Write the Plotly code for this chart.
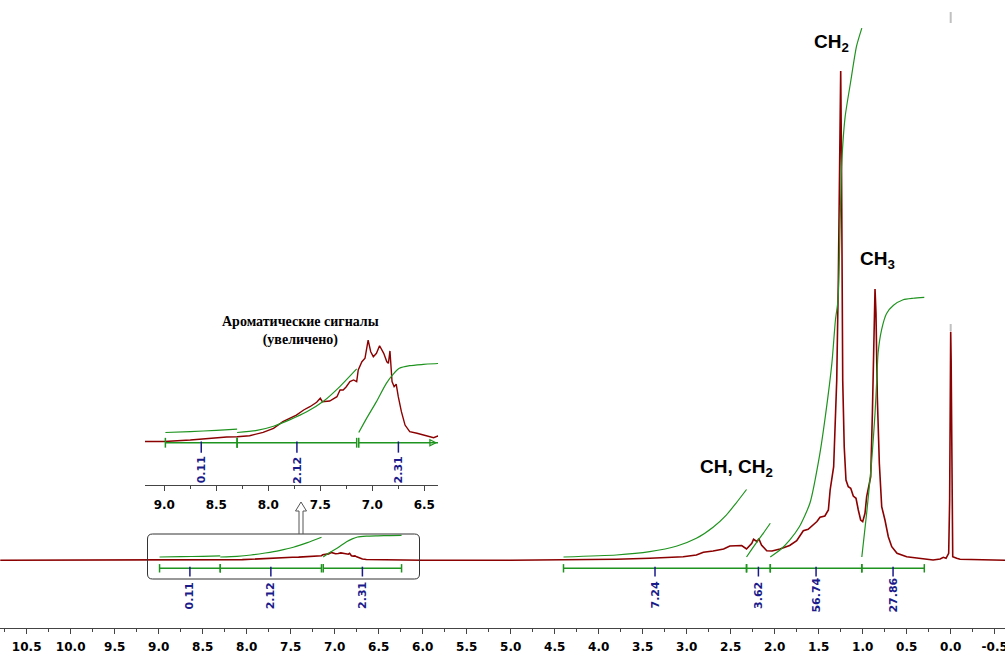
import plotly.graph_objects as go

# ---------------- axis ticks ----------------
tick_vals = [10.5, 10.0, 9.5, 9.0, 8.5, 8.0, 7.5, 7.0, 6.5, 6.0, 5.5, 5.0, 4.5,
             4.0, 3.5, 3.0, 2.5, 2.0, 1.5, 1.0, 0.5, 0.0, -0.5]
tick_text = ["10.5", "10.0", "9.5", "9.0", "8.5", "8.0", "7.5", "7.0", "6.5", "6.0",
             "5.5", "5.0", "4.5", "4.0", "3.5", "3.0", "2.5", "2.0", "1.5", "1.0",
             "0.5", "0.0", "-0.5"]
inset_tick_vals = [9.0, 8.5, 8.0, 7.5, 7.0, 6.5]
inset_tick_text = ["9.0", "8.5", "8.0", "7.5", "7.0", "6.5"]

# ---------------- spectrum (ppm, intensity) ----------------
shift_ppm = [10.80, 9.20, 9.19, 9.00, 8.75, 8.53, 8.40, 8.30, 8.18, 8.05, 7.95, 7.86,
             7.79, 7.73, 7.66, 7.60, 7.535, 7.50, 7.48, 7.41, 7.34, 7.31, 7.28, 7.25,
             7.215, 7.18, 7.15, 7.135, 7.10, 7.07, 7.04, 7.015, 6.99, 6.96, 6.93, 6.89,
             6.86, 6.845, 6.83, 6.81, 6.79, 6.77, 6.75, 6.72, 6.685, 6.64, 6.57, 6.51,
             6.41, 6.37, 6.30, 6.20, 6.00, 5.00, 4.60, 4.20, 3.80, 3.42, 3.04, 2.89,
             2.81, 2.70, 2.58, 2.51, 2.45, 2.375, 2.32, 2.26, 2.24, 2.20, 2.18, 2.15,
             2.09, 2.03, 1.94, 1.83, 1.75, 1.675, 1.62, 1.52, 1.485, 1.43, 1.39, 1.37,
             1.33, 1.315, 1.295, 1.277, 1.264, 1.25, 1.241, 1.233, 1.227, 1.21, 1.19,
             1.164, 1.136, 1.107, 1.076, 1.05, 1.023, 1.00, 0.974, 0.955, 0.925, 0.909,
             0.89, 0.872, 0.86, 0.849, 0.834, 0.811, 0.784, 0.747, 0.709, 0.67, 0.61,
             0.50, 0.35, 0.20, 0.12, 0.084, 0.053, 0.039, 0.023, 0.012, 0.005, 0.0,
             -0.005, -0.012, -0.023, -0.068, -0.106, -0.62]
intensity = [0.0, 0.0, 0.0, 0.02, 0.13, 0.31, 0.36, 0.38, 0.46, 0.72, 1.03, 1.54,
             1.85, 2.05, 2.44, 2.69, 3.03, 3.34, 3.08, 3.13, 3.46, 3.98, 3.98, 4.23,
             4.62, 4.75, 4.62, 5.52, 6.15, 6.42, 7.82, 6.92, 6.54, 6.80, 7.38, 6.80,
             6.15, 6.03, 6.98, 4.62, 4.23, 4.42, 3.46, 2.31, 1.28, 0.77, 0.65, 0.52,
             0.31, 0.44, 0.30, 0.15, 0.05, 0.0, 0.1, 0.4, 1.0, 2.0, 3.6, 5.3,
             8.0, 9.3, 11.3, 14.3, 14.3, 14.8, 11.3, 17.0, 21.0, 18.6, 21.6, 15.3,
             9.6, 9.3, 11.3, 14.8, 19.6, 29.6, 31.0, 38.8, 43.0, 44.3, 50.3, 70.3,
             93.6, 123.6, 180.3, 280.0, 400.0, 489.3, 400.0, 280.0, 180.0, 113.6, 80.3,
             73.6, 72.0, 64.3, 62.0, 50.3, 40.3, 38.6, 47.0, 63.6, 75.3, 83.6,
             147.0, 247.0, 271.3, 247.0, 163.6, 97.0, 53.6, 40.3, 23.6, 13.6, 7.0,
             3.6, 2.0, 0.3, 1.3, 3.0, 2.0, 5.3, 7.0, 60.0, 200.0, 228.6,
             200.0, 60.0, 3.6, 2.0, 1.0, 0.0]

# ---------------- integrals ----------------
integral_start = [8.99, 8.30, 7.13, 4.40, 2.32, 2.05, 1.01]
integral_end = [8.30, 7.15, 6.24, 2.32, 2.05, 1.01, 0.30]
integral_label = ["0.11", "2.12", "2.31", "7.24", "3.62", "56.74", "27.86"]
aromatic_count = 3  # first three integrals are the aromatic ones shown in the inset

# integral curves (cumulative integral within each region)
curve_ppm_a = [8.99, 8.75, 8.50, 8.30]
curve_val_a = [0.0, 0.03, 0.07, 0.11]
curve_ppm_b = [8.30, 8.11, 7.95, 7.79, 7.63, 7.47, 7.31, 7.15]
curve_val_b = [0.0, 0.07, 0.21, 0.43, 0.69, 1.04, 1.54, 2.12]
curve_ppm_c = [7.13, 7.055, 6.96, 6.865, 6.80, 6.74, 6.64, 6.51, 6.37, 6.24]
curve_val_c = [0.0, 0.47, 1.03, 1.64, 1.94, 2.14, 2.23, 2.27, 2.30, 2.31]
curve_ppm_d = [4.40, 3.80, 3.42, 3.11, 2.89, 2.70, 2.55, 2.44, 2.32]
curve_val_d = [0.0, 0.21, 0.57, 1.18, 2.0, 3.19, 4.5, 5.76, 7.24]
curve_ppm_e = [2.32, 2.20, 2.13, 2.05]
curve_val_e = [0.0, 1.64, 2.54, 3.62]
curve_ppm_f = [2.05, 1.94, 1.83, 1.72, 1.60, 1.49, 1.42, 1.35, 1.31, 1.28, 1.24,
               1.20, 1.14, 1.07, 1.01]
curve_val_f = [0.0, 0.75, 1.82, 3.25, 5.76, 10.9, 15.4, 20.8, 25.4, 27.6, 41.9,
               47.2, 50.8, 54.8, 56.74]
curve_ppm_g = [1.01, 0.955, 0.90, 0.86, 0.84, 0.825, 0.785, 0.73, 0.65, 0.54, 0.425, 0.30]
curve_val_g = [0.0, 4.7, 10.05, 15.4, 19.0, 21.9, 24.4, 26.1, 27.0, 27.6, 27.76, 27.86]

# peak group labels
group_text = ["CH<sub>2</sub>", "CH<sub>3</sub>", "CH, CH<sub>2</sub>"]
group_ppm = [1.349, 0.8375, 2.434]
group_int = [517.0, 300.0, 92.0]

# ---------------- styling / layout constants ----------------
W, H = 1005, 653
PLOT_H = 628
RED = "#8b0000"
GREEN = "#1f931f"
NAVY = "#1a1a8a"
AXIS = "#444444"
X_RANGE = [10.803, -0.617]
INSET_RANGE = [9.186, 6.368]
MAIN_Y = [-67.7, 560.3]
MAIN_Y_INT = [-7.62, 59.76]
INSET_Y = [-3.331, 9.746]
INSET_Y_INT = [-1.75, 3.917]


def px(x):
    return x / W


def py(y):
    return (PLOT_H - y) / PLOT_H


curves = [(curve_ppm_a, curve_val_a), (curve_ppm_b, curve_val_b), (curve_ppm_c, curve_val_c),
          (curve_ppm_d, curve_val_d), (curve_ppm_e, curve_val_e), (curve_ppm_f, curve_val_f),
          (curve_ppm_g, curve_val_g)]

fig = go.Figure()

# main spectrum
fig.add_trace(go.Scatter(x=shift_ppm, y=intensity, mode="lines",
                         line=dict(color=RED, width=1.6), xaxis="x", yaxis="y"))
# inset spectrum (same data, magnified)
fig.add_trace(go.Scatter(x=shift_ppm, y=intensity, mode="lines",
                         line=dict(color=RED, width=1.4), xaxis="x2", yaxis="y2"))

# integral curves
for i, (cx, cy) in enumerate(curves):
    fig.add_trace(go.Scatter(x=cx, y=cy, mode="lines", line=dict(color=GREEN, width=1.2, shape="spline", smoothing=0.6),
                             xaxis="x", yaxis="y3"))
    if i < aromatic_count:
        fig.add_trace(go.Scatter(x=cx, y=cy, mode="lines", line=dict(color=GREEN, width=1.2, shape="spline", smoothing=0.6),
                                 xaxis="x2", yaxis="y4"))

annotations = []
BAR_Y, TICK_Y, LAB_Y = -8.0, -11.3, -35.2
IBAR_Y, ITICK_Y, ILAB_Y = -0.08, -0.41, -2.18
for i in range(len(integral_start)):
    s, e = integral_start[i], integral_end[i]
    mid = (s + e) / 2
    fig.add_trace(go.Scatter(x=[s, e], y=[BAR_Y, BAR_Y], mode="lines+markers",
                             line=dict(color=GREEN, width=1.5),
                             marker=dict(symbol="line-ns", size=6, line=dict(color=GREEN, width=1.5)),
                             xaxis="x", yaxis="y"))
    fig.add_trace(go.Scatter(x=[mid], y=[TICK_Y], mode="markers",
                             marker=dict(symbol="line-ns", size=7, line=dict(color=NAVY, width=1.5)),
                             xaxis="x", yaxis="y"))
    annotations.append(dict(x=mid, y=LAB_Y, xref="x", yref="y", text=integral_label[i],
                            textangle=-90, showarrow=False,
                            font=dict(family="DejaVu Sans", size=11, color=NAVY, weight="bold")))
    if i < aromatic_count:
        e_vis = max(e, INSET_RANGE[1])
        imid = (s + e_vis) / 2
        fig.add_trace(go.Scatter(x=[s, e], y=[IBAR_Y, IBAR_Y], mode="lines+markers",
                                 line=dict(color=GREEN, width=1.5),
                                 marker=dict(symbol="line-ns", size=7, line=dict(color=GREEN, width=1.5)),
                                 xaxis="x2", yaxis="y2"))
        fig.add_trace(go.Scatter(x=[imid], y=[ITICK_Y], mode="markers",
                                 marker=dict(symbol="line-ns", size=8, line=dict(color=NAVY, width=1.5)),
                                 xaxis="x2", yaxis="y2"))
        annotations.append(dict(x=imid, y=ILAB_Y, xref="x2", yref="y2", text=integral_label[i],
                                textangle=-90, showarrow=False,
                                font=dict(family="DejaVu Sans", size=11, color=NAVY, weight="bold")))

# arrow at the clipped end of the inset integral bar
fig.add_trace(go.Scatter(x=[INSET_RANGE[1] + 0.02], y=[IBAR_Y], mode="markers", cliponaxis=False,
                         marker=dict(symbol="arrow-right-open", size=6, color=GREEN,
                                     line=dict(color=GREEN, width=1.3)),
                         xaxis="x2", yaxis="y2"))

for t, xv, yv in zip(group_text, group_ppm, group_int):
    annotations.append(dict(x=xv, y=yv, xref="x", yref="y", text=t, showarrow=False,
                            font=dict(family="Liberation Sans", size=19, color="black", weight="bold")))

annotations.append(dict(x=px(300), y=py(330.5), xref="paper", yref="paper",
                        xanchor="center", yanchor="middle",
                        text="Ароматические сигналы<br>(увеличено)", showarrow=False,
                        font=dict(family="Liberation Serif", size=14, color="black", weight="bold")))

# rounded box around aromatic region
x0, x1, y0, y1, r = 147.5, 419.5, 534.0, 579.0, 5.0
box_path = (f"M {px(x0 + r)},{py(y0)} L {px(x1 - r)},{py(y0)} Q {px(x1)},{py(y0)} {px(x1)},{py(y0 + r)} "
            f"L {px(x1)},{py(y1 - r)} Q {px(x1)},{py(y1)} {px(x1 - r)},{py(y1)} "
            f"L {px(x0 + r)},{py(y1)} Q {px(x0)},{py(y1)} {px(x0)},{py(y1 - r)} "
            f"L {px(x0)},{py(y0 + r)} Q {px(x0)},{py(y0)} {px(x0 + r)},{py(y0)} Z")
arrow_path = (f"M {px(299)},{py(534)} L {px(299)},{py(511)} L {px(295.5)},{py(511)} "
              f"L {px(301)},{py(502)} L {px(306.5)},{py(511)} L {px(303)},{py(511)} L {px(303)},{py(534)}")
shapes = [
    dict(type="path", xref="paper", yref="paper", path=box_path, line=dict(color="#333333", width=1)),
    dict(type="path", xref="paper", yref="paper", path=arrow_path, line=dict(color="#555555", width=1)),
    dict(type="line", xref="paper", yref="paper", x0=px(950.7), x1=px(950.7), y0=py(12), y1=py(23),
         line=dict(color="#c0c0c0", width=2)),
    dict(type="line", xref="paper", yref="paper", x0=px(950.7), x1=px(950.7), y0=py(324), y1=py(331),
         line=dict(color="#c0c0c0", width=2)),
]

tickfont = dict(family="DejaVu Sans", size=12, color="black", weight="bold")
fig.update_layout(
    width=W, height=H, margin=dict(l=0, r=0, t=0, b=H - PLOT_H, autoexpand=False),
    paper_bgcolor="white", plot_bgcolor="rgba(0,0,0,0)", showlegend=False,
    xaxis=dict(domain=[0, 1], range=X_RANGE, anchor="y", tickmode="array", tickvals=tick_vals,
               ticktext=tick_text, ticks="outside", ticklen=5, tickwidth=1, tickcolor=AXIS,
               showline=True, linecolor=AXIS, linewidth=1, showgrid=False, zeroline=False,
               tickfont=tickfont, ticklabelstandoff=3, ticklabeloverflow="allow", automargin=False,
               minor=dict(tickmode="linear", tick0=0, dtick=0.25, ticks="outside", ticklen=3,
                          tickcolor=AXIS, showgrid=False)),
    yaxis=dict(domain=[0, 1], range=MAIN_Y, visible=False, anchor="x", automargin=False),
    yaxis3=dict(range=MAIN_Y_INT, overlaying="y", visible=False, anchor="x", automargin=False),
    xaxis2=dict(domain=[px(145), px(438)], range=INSET_RANGE, anchor="y2", tickmode="array",
                tickvals=inset_tick_vals, ticktext=inset_tick_text, ticks="outside", ticklen=5,
                tickcolor=AXIS, showline=True, linecolor=AXIS, linewidth=1, showgrid=False,
                zeroline=False, tickfont=tickfont, ticklabelstandoff=4, automargin=False,
                minor=dict(tickmode="linear", tick0=0, dtick=0.25, ticks="outside", ticklen=3,
                           tickcolor=AXIS, showgrid=False)),
    yaxis2=dict(domain=[py(485), py(315)], range=INSET_Y, visible=False, anchor="x2", automargin=False),
    yaxis4=dict(range=INSET_Y_INT, overlaying="y2", visible=False, anchor="x2", automargin=False),
    annotations=annotations, shapes=shapes,
)

fig.write_html("out.html")
